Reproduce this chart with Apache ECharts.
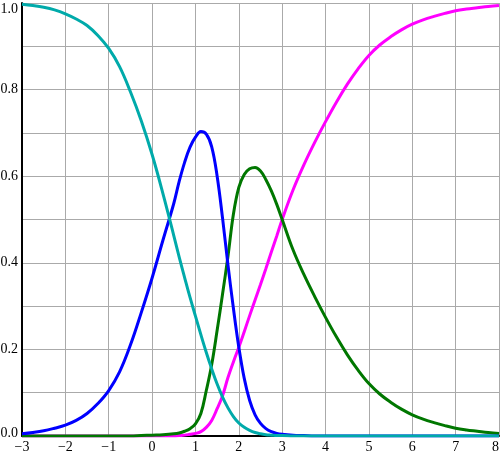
<!DOCTYPE html>
<html>
<head>
<meta charset="utf-8">
<script src="https://cdn.jsdelivr.net/npm/echarts@6/dist/echarts.min.js"></script>
<style>
html,body{margin:0;padding:0;background:#fff;}
#chart{width:500px;height:459px;}
</style>
</head>
<body>
<div id="chart"></div>
<script>
// x positions (shared by all four curves)
const xs = [-3, -2.75, -2.5, -2.25, -2, -1.75, -1.5, -1.25, -1, -0.75, -0.5, -0.25, 0, 0.25,
  0.5, 0.625, 0.75, 0.875, 1, 1.125, 1.25, 1.375, 1.5, 1.625, 1.75, 1.875, 2, 2.125, 2.25, 2.375,
  2.5, 2.625, 2.75, 2.875, 3, 3.25, 3.5, 3.75, 4, 4.25, 4.5, 4.75, 5, 5.25, 5.5, 5.75, 6, 6.25,
  6.5, 6.75, 7, 7.25, 7.5, 7.75, 8];

// cyan curve
const cyanValues = [0.997, 0.994, 0.99, 0.984, 0.975, 0.963, 0.948, 0.925, 0.895, 0.853, 0.795, 0.728, 0.65, 0.56,
  0.463, 0.413, 0.366, 0.32, 0.277, 0.234, 0.193, 0.155, 0.12, 0.09, 0.065, 0.045, 0.03, 0.02, 0.013, 0.008,
  0.005, 0.003, 0.002, 0.001, 0.001, 0, 0, 0, 0, 0, 0, 0, 0, 0, 0, 0, 0, 0,
  0, 0, 0, 0, 0, 0, 0];

// blue curve
const blueValues = [0.005, 0.008, 0.012, 0.018, 0.025, 0.036, 0.052, 0.075, 0.105, 0.148, 0.21, 0.285, 0.365, 0.452,
  0.537, 0.588, 0.632, 0.667, 0.69, 0.703, 0.697, 0.668, 0.6, 0.503, 0.395, 0.295, 0.205, 0.133, 0.082, 0.049,
  0.029, 0.017, 0.01, 0.006, 0.004, 0.002, 0.001, 0, 0, 0, 0, 0, 0, 0, 0, 0, 0, 0,
  0, 0, 0, 0, 0, 0, 0];

// green curve
const greenValues = [0, 0, 0, 0, 0, 0, 0, 0, 0, 0, 0, 0.001, 0.002, 0.003,
  0.005, 0.007, 0.011, 0.017, 0.028, 0.052, 0.105, 0.165, 0.244, 0.328, 0.415, 0.512, 0.574, 0.604, 0.617, 0.62,
  0.612, 0.592, 0.566, 0.535, 0.5, 0.43, 0.373, 0.322, 0.274, 0.229, 0.188, 0.152, 0.121, 0.097, 0.078, 0.062, 0.049, 0.039,
  0.031, 0.024, 0.018, 0.014, 0.011, 0.008, 0.006];

// magenta curve
const magentaValues = [0, 0, 0, 0, 0, 0, 0, 0, 0, 0, 0, 0, 0, 0,
  0, 0.001, 0.002, 0.004, 0.006, 0.01, 0.02, 0.036, 0.063, 0.093, 0.135, 0.171, 0.205, 0.241, 0.278, 0.314,
  0.35, 0.387, 0.425, 0.462, 0.5, 0.568, 0.626, 0.678, 0.726, 0.771, 0.812, 0.848, 0.879, 0.903, 0.922, 0.938, 0.951, 0.961,
  0.969, 0.976, 0.982, 0.986, 0.989, 0.992, 0.994];

// tick labels
const xTickLabels = ['\u22123', '\u22122', '\u22121', '0', '1', '2', '3', '4', '5', '6', '7', '8'];
const yTickLabels = ['0.0', '', '0.2', '', '0.4', '', '0.6', '', '0.8', '', '1.0'];

const FONT = 'Liberation Serif';
const FSIZE = 14;

function pairs(vals) { return xs.map((x, i) => [x, vals[i]]); }

function lineSeries(name, color, vals) {
  return {
    name: name, type: 'line', data: pairs(vals), smooth: 0.4, showSymbol: false,
    lineStyle: { color: color, width: 3 }, itemStyle: { color: color },
    emphasis: { disabled: true }
  };
}

const chart = echarts.init(document.getElementById('chart'), null, { renderer: 'canvas' });
chart.setOption({
  animation: false,
  backgroundColor: '#ffffff',
  grid: { left: 22, right: 1, top: 3, bottom: 23, containLabel: false, outerBoundsMode: 'none' },
  xAxis: {
    type: 'value', min: -3, max: 8, interval: 1,
    axisLine: { show: true, onZero: false, lineStyle: { color: '#000', width: 2 } },
    axisTick: { show: false },
    splitLine: { show: true, lineStyle: { color: '#aaaaaa', width: 1 } },
    axisLabel: {
      color: '#000', fontFamily: FONT, fontSize: FSIZE, margin: 4,
      alignMaxLabel: 'right',
      formatter: function (v) { return xTickLabels[Math.round(v) + 3]; }
    }
  },
  yAxis: {
    type: 'value', min: 0, max: 1, interval: 0.1,
    axisLine: { show: true, onZero: false, lineStyle: { color: '#000', width: 2 } },
    axisTick: { show: false },
    splitLine: { show: true, lineStyle: { color: '#aaaaaa', width: 1 } },
    axisLabel: {
      color: '#000', fontFamily: FONT, fontSize: FSIZE, margin: 4,
      formatter: function (v) {
        const i = Math.round(v * 10);
        const t = yTickLabels[i];
        if (!t) return '';
        if (i === 10) return '{t|' + t + '}';
        if (i === 0) return '{b|' + t + '}';
        return t;
      },
      rich: {
        t: { fontFamily: FONT, fontSize: FSIZE, color: '#000', padding: [12, 0, 0, 0] },
        b: { fontFamily: FONT, fontSize: FSIZE, color: '#000', padding: [0, 0, 6, 0] }
      }
    }
  },
  series: [
    lineSeries('magenta', '#ff00ff', magentaValues),
    lineSeries('green', '#007700', greenValues),
    lineSeries('blue', '#0000ff', blueValues),
    lineSeries('cyan', '#00aaaa', cyanValues)
  ]
});
</script>
</body>
</html>
